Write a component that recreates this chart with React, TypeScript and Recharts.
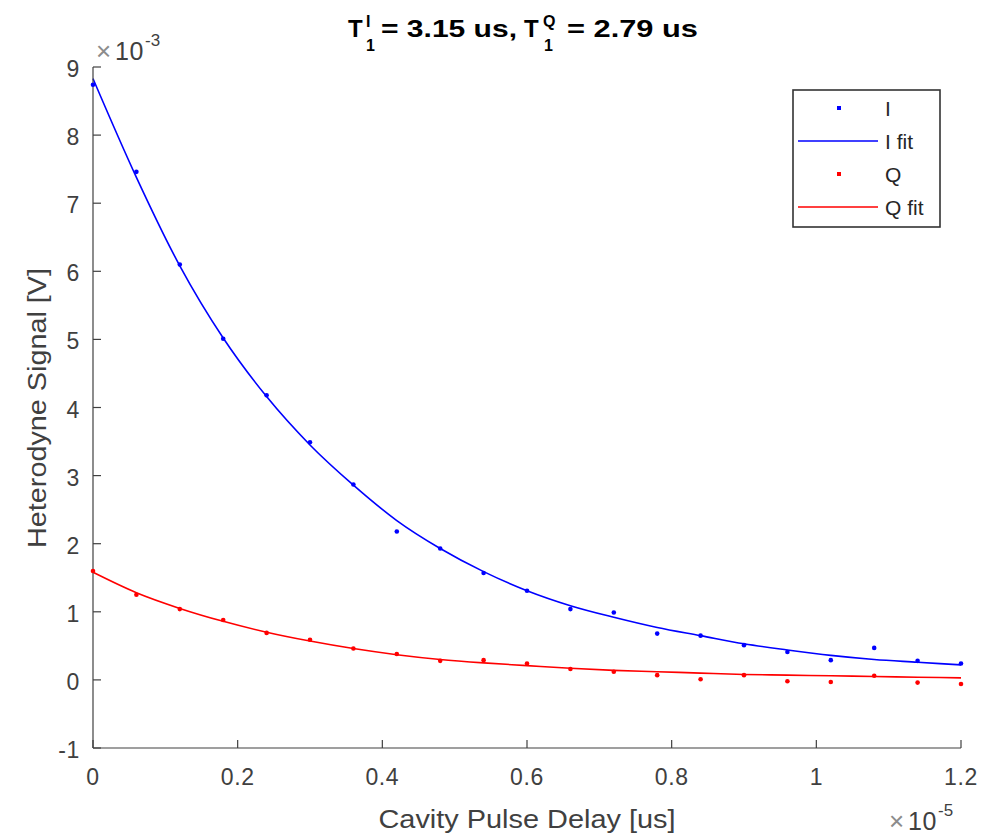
import React from 'react';
import { LineChart, Line, XAxis, YAxis, Legend } from 'recharts';

// delay in units of 1e-5 s, signal in units of 1e-3 V
const delays = [0, 0.06, 0.12, 0.18, 0.24, 0.3, 0.36, 0.42, 0.48, 0.54, 0.6, 0.66, 0.72, 0.78, 0.84, 0.9, 0.96, 1.02, 1.08, 1.14, 1.2];
const iMeasured = [8.74, 7.46, 6.1, 5.01, 4.18, 3.49, 2.87, 2.18, 1.93, 1.57, 1.31, 1.04, 0.99, 0.68, 0.65, 0.51, 0.41, 0.29, 0.47, 0.28, 0.24];
const iFit = [8.83, 7.38, 6.08, 5.02, 4.16, 3.45, 2.86, 2.34, 1.93, 1.59, 1.31, 1.09, 0.92, 0.77, 0.65, 0.53, 0.44, 0.36, 0.3, 0.26, 0.22];
const qMeasured = [1.6, 1.25, 1.04, 0.88, 0.69, 0.59, 0.46, 0.38, 0.28, 0.29, 0.24, 0.16, 0.12, 0.07, 0.01, 0.07, -0.02, -0.03, 0.06, -0.04, -0.06];
const qFit = [1.58, 1.28, 1.05, 0.86, 0.7, 0.57, 0.46, 0.37, 0.3, 0.25, 0.21, 0.17, 0.14, 0.12, 0.1, 0.08, 0.07, 0.06, 0.05, 0.04, 0.03];

const xTicks = [0, 0.2, 0.4, 0.6, 0.8, 1, 1.2];
const yTicks = [-1, 0, 1, 2, 3, 4, 5, 6, 7, 8, 9];

const FONT = '"Liberation Sans", Arial, Helvetica, sans-serif';
const AXIS = '#404040';
const BLUE = '#0000ff';
const RED = '#ff0000';

const seriesColor: Record<string, string> = { i: BLUE, iFit: BLUE, q: RED, qFit: RED };

const data = delays.map((x, k) => ({
  x,
  i: iMeasured[k],
  iFit: iFit[k],
  q: qMeasured[k],
  qFit: qFit[k],
}));

function XTick(props: any) {
  const { x, y, payload } = props;
  return (
    <g>
      <line x1={x} x2={x} y1={y} y2={y - 8} stroke={AXIS} strokeWidth={1.2} />
      <text x={x} y={y + 37} textAnchor="middle" fontSize={23} letterSpacing={0.6} fill={AXIS} fontFamily={FONT}>
        {String(payload.value)}
      </text>
    </g>
  );
}

function YTick(props: any) {
  const { x, y, payload } = props;
  return (
    <g>
      <line x1={x} x2={x + 8} y1={y} y2={y} stroke={AXIS} strokeWidth={1.2} />
      <text x={x - 13} y={y + 10} textAnchor="end" fontSize={23} letterSpacing={0.6} fill={AXIS} fontFamily={FONT}>
        {String(payload.value)}
      </text>
    </g>
  );
}

function LegendBox(props: any) {
  const { payload } = props;
  return (
    <svg width={150} height={140} style={{ display: 'block' }}>
      <rect x={1} y={1} width={147} height={137} fill="#fff" stroke="#333" strokeWidth={1.6} />
      {(payload || []).map((entry: any, k: number) => {
        const cy = 19 + k * 33;
        const col = seriesColor[entry.dataKey] || '#000';
        return (
          <g key={entry.value}>
            {entry.type === 'line' ? (
              <line x1={6} x2={86} y1={cy} y2={cy} stroke={col} strokeWidth={1.6} />
            ) : (
              <rect x={45} y={cy - 2} width={4} height={4} fill={col} />
            )}
            <text x={93} y={cy + 8} fontSize={21} fill="#262626" fontFamily={FONT}>
              {entry.value}
            </text>
          </g>
        );
      })}
    </svg>
  );
}

export default function App() {
  return (
    <div style={{ position: 'absolute', left: 0, top: 0, width: 985, height: 835, background: '#fff' }}>
      <LineChart width={985} height={835} data={data} margin={{ top: 67, right: 24, bottom: 0, left: 0 }}>
        <XAxis
          type="number"
          dataKey="x"
          domain={[0, 1.2]}
          ticks={xTicks}
          interval={0}
          height={87}
          tickSize={0}
          tickMargin={0}
          tickLine={false}
          tick={<XTick />}
          axisLine={{ stroke: AXIS, strokeWidth: 1.2 }}
        />
        <YAxis
          type="number"
          domain={[-1, 9]}
          ticks={yTicks}
          interval={0}
          width={93}
          tickSize={0}
          tickMargin={0}
          tickLine={false}
          tick={<YTick />}
          axisLine={{ stroke: AXIS, strokeWidth: 1.2 }}
        />
        <Legend
          layout="vertical"
          align="center"
          verticalAlign="middle"
          content={<LegendBox />}
          wrapperStyle={{ left: 792, top: 89, width: 150, height: 140 }}
        />
        <Line
          dataKey="i"
          name="I"
          stroke="none"
          legendType="circle"
          dot={{ r: 2.3, fill: BLUE, stroke: 'none' }}
          activeDot={false}
          isAnimationActive={false}
        />
        <Line
          dataKey="iFit"
          name="I fit"
          type="monotone"
          stroke={BLUE}
          strokeWidth={1.6}
          legendType="line"
          dot={false}
          activeDot={false}
          isAnimationActive={false}
        />
        <Line
          dataKey="q"
          name="Q"
          stroke="none"
          legendType="circle"
          dot={{ r: 2.3, fill: RED, stroke: 'none' }}
          activeDot={false}
          isAnimationActive={false}
        />
        <Line
          dataKey="qFit"
          name="Q fit"
          type="monotone"
          stroke={RED}
          strokeWidth={1.6}
          legendType="line"
          dot={false}
          activeDot={false}
          isAnimationActive={false}
        />
      </LineChart>

      <svg width={985} height={835} style={{ position: 'absolute', left: 0, top: 0, pointerEvents: 'none' }}>
        <g fontFamily={FONT} fontWeight="bold" fill="#000">
          <text x={348} y={37} fontSize={24}>T</text>
          <text x={366} y={27} fontSize={16}>I</text>
          <text x={366} y={51} fontSize={16}>1</text>
          <text x={381} y={37} fontSize={24} textLength={136} lengthAdjust="spacingAndGlyphs">= 3.15 us,</text>
          <text x={524} y={37} fontSize={24}>T</text>
          <text x={543} y={27} fontSize={16}>Q</text>
          <text x={544} y={51} fontSize={16}>1</text>
          <text x={567} y={37} fontSize={24} textLength={131} lengthAdjust="spacingAndGlyphs">= 2.79 us</text>
        </g>
        <g fontFamily={FONT} fill={AXIS}>
          <text x={96} y={60} fontSize={26} fill="#8c8c8c">×</text>
          <text x={115} y={60} fontSize={25} letterSpacing={0.6}>10</text>
          <text x={145} y={46} fontSize={17}>-3</text>
          <text x={889} y={830} fontSize={26} fill="#8c8c8c">×</text>
          <text x={908} y={830} fontSize={25} letterSpacing={0.6}>10</text>
          <text x={938} y={816} fontSize={17}>-5</text>
          <text x={527} y={828} fontSize={26} textAnchor="middle" textLength={297} lengthAdjust="spacingAndGlyphs">
            Cavity Pulse Delay [us]
          </text>
          <text
            transform="translate(46,408) rotate(-90)"
            fontSize={26}
            textAnchor="middle"
            textLength={280}
            lengthAdjust="spacingAndGlyphs"
          >
            Heterodyne Signal [V]
          </text>
        </g>
      </svg>
    </div>
  );
}
